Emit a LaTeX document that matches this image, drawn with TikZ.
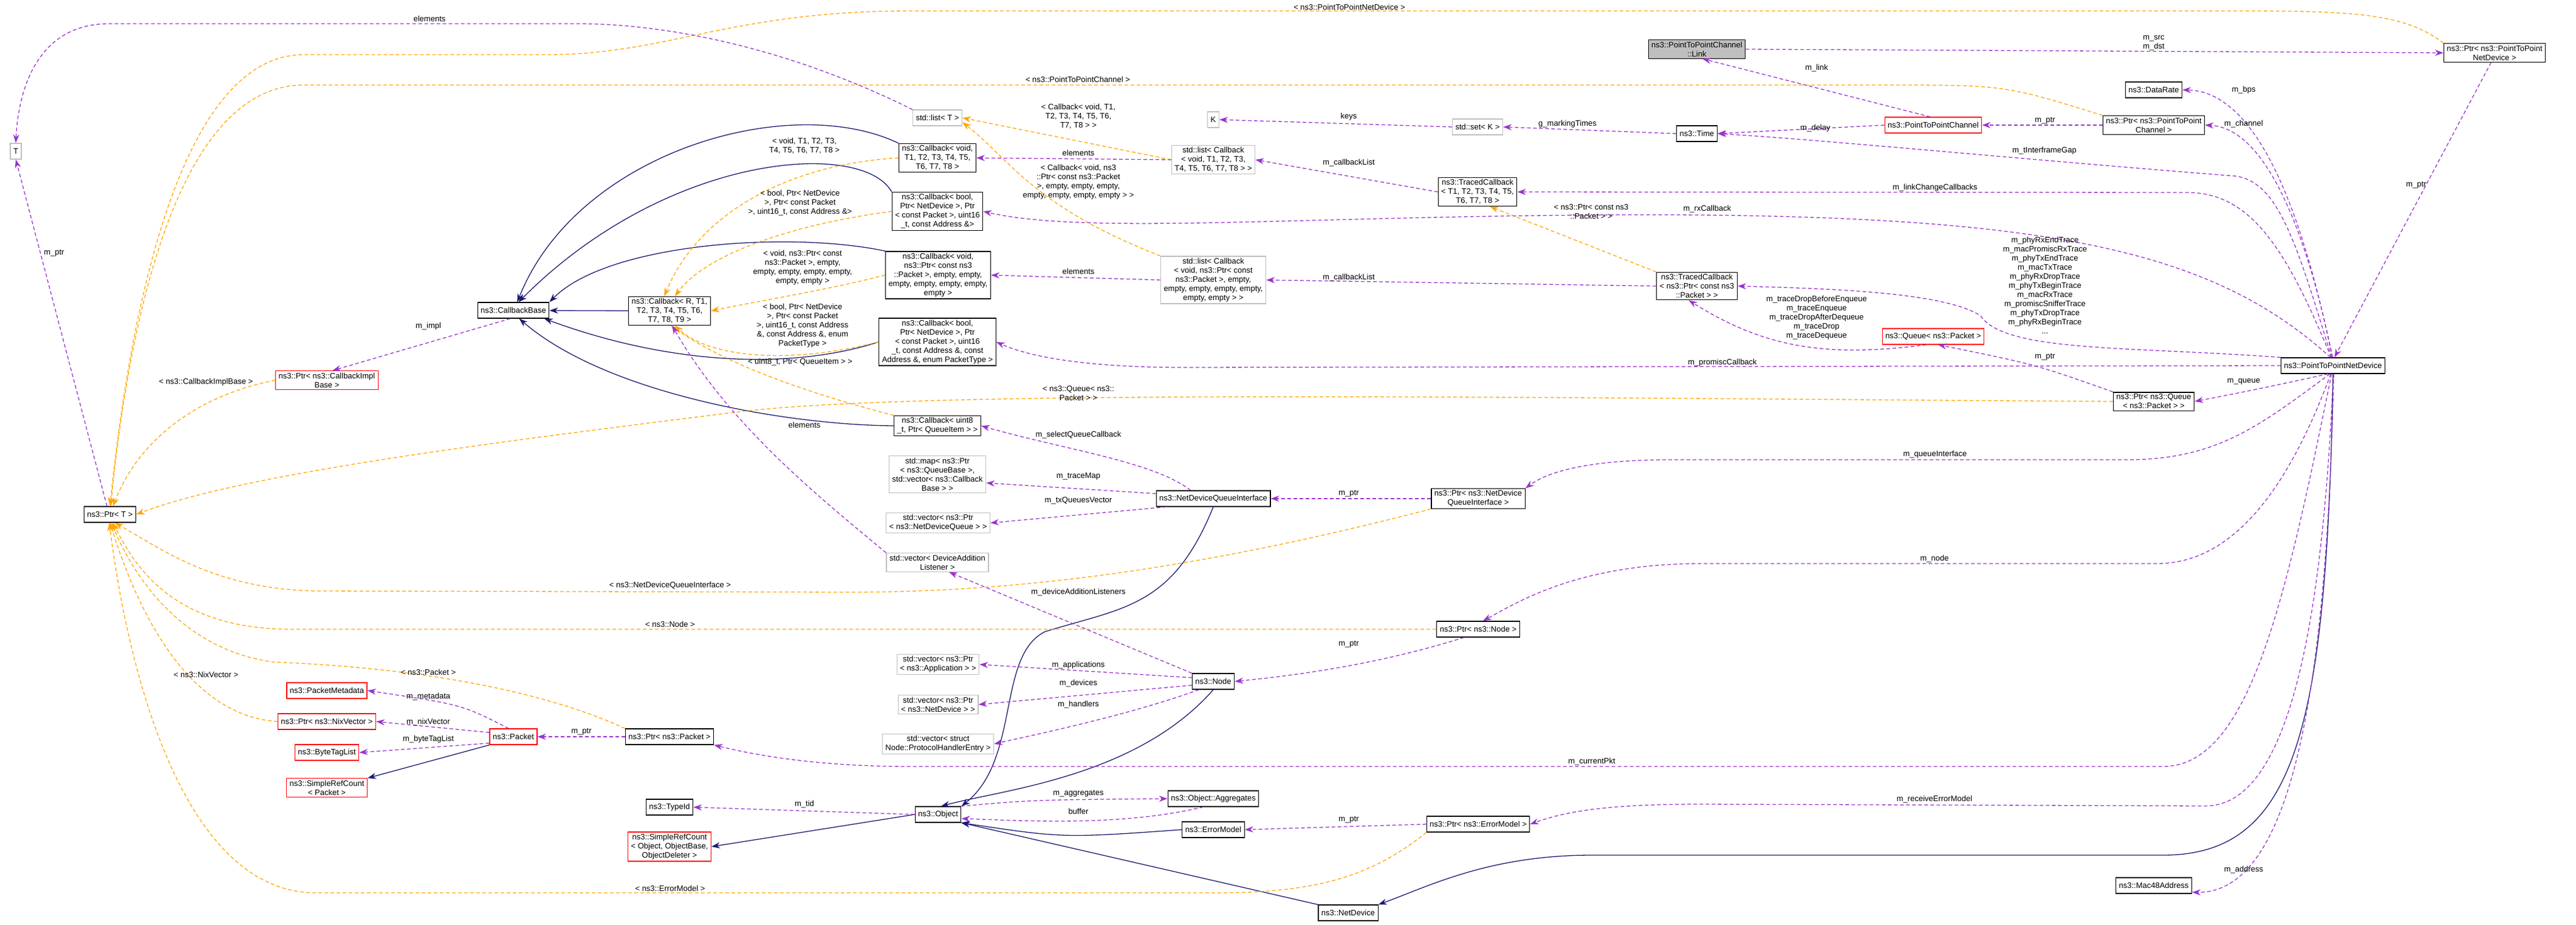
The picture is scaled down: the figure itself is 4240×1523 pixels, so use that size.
\documentclass[tikz,border=0pt]{standalone}
\usepackage{fontspec}
\setmainfont{Liberation Sans}
\usetikzlibrary{arrows.meta}
\definecolor{purp}{HTML}{9A32CD}
\definecolor{orng}{HTML}{FFA500}
\definecolor{navy}{HTML}{191970}
\definecolor{gbord}{HTML}{BFBFBF}
\definecolor{gfill}{HTML}{BFBFBF}
\newcommand{\fs}{\fontsize{13}{15}\selectfont}
\tikzset{
 box/.style={draw=black, fill=white, line width=1.2pt, font=\fs, align=center, inner xsep=5pt, inner ysep=3pt, minimum height=26pt},
 rbox/.style={box, draw=red},
 gbox/.style={box, draw=gbord},
 lbl/.style={font=\fs, align=center, inner sep=0pt},
 use/.style={draw=purp, dash pattern=on 6pt off 4pt, line width=1.3pt, -{Stealth[length=14pt,width=10pt]}},
 tmpl/.style={use, draw=orng},
 inh/.style={draw=navy, line width=1.3pt, -{Stealth[length=14pt,width=10pt]}},
}
\begin{document}
\begin{tikzpicture}[x=1pt,y=-1pt]
\useasboundingbox (0,0) rectangle (4240,1523);
% nodes
\node[gbox] (T) at (26,249) {T};
\node[box] (ptrT) at (181,847) {ns3::Ptr< T >};
\node[box] (cbb) at (845,511) {ns3::CallbackBase};
\node[box] (cbr) at (1102,512) {ns3::Callback< R, T1,\\ T2, T3, T4, T5, T6,\\ T7, T8, T9 >};
\node[rbox] (pcib) at (538,626) {ns3::Ptr< ns3::CallbackImpl\\Base >};
\node[gbox] (lst) at (1543,194) {std::list< T >};
\node[box] (cbv) at (1543,260) {ns3::Callback< void,\\ T1, T2, T3, T4, T5,\\ T6, T7, T8 >};
\node[box] (cbba) at (1543,348) {ns3::Callback< bool,\\ Ptr< NetDevice >, Ptr\\< const Packet >, uint16\\\_t, const Address \&>};
\node[box] (cbvp) at (1544,453) {ns3::Callback< void,\\ ns3::Ptr< const ns3\\::Packet >, empty, empty,\\ empty, empty, empty, empty,\\ empty >};
\node[box] (cbbp) at (1543,563) {ns3::Callback< bool,\\ Ptr< NetDevice >, Ptr\\< const Packet >, uint16\\\_t, const Address \&, const\\ Address \&, enum PacketType >};
\node[box] (cbu) at (1543,701) {ns3::Callback< uint8\\\_t, Ptr< QueueItem > >};
\node[gbox] (K) at (1997,197) {K};
\node[gbox] (lstcb) at (1997,263) {std::list< Callback\\< void, T1, T2, T3,\\ T4, T5, T6, T7, T8 > >};
\node[gbox] (lstcbp) at (1997,461) {std::list< Callback\\< void, ns3::Ptr< const\\ ns3::Packet >, empty,\\ empty, empty, empty, empty,\\ empty, empty > >};
\node[gbox] (setk) at (2432,209) {std::set< K >};
\node[box] (time) at (2793,220) {ns3::Time};
\node[box, fill=gfill] (link) at (2793,81) {ns3::PointToPointChannel\\::Link};
\node[box] (tcb) at (2432,316) {ns3::TracedCallback\\< T1, T2, T3, T4, T5,\\ T6, T7, T8 >};
\node[box] (tcbp) at (2793,471) {ns3::TracedCallback\\< ns3::Ptr< const ns3\\::Packet > >};
\node[box] (ppnd) at (4106,87) {ns3::Ptr< ns3::PointToPoint\\NetDevice >};
\node[box] (drate) at (3545,148) {ns3::DataRate};
\node[rbox] (p2pc) at (3182,206) {ns3::PointToPointChannel};
\node[box] (pp2pc) at (3545,206) {ns3::Ptr< ns3::PointToPoint\\Channel >};
\node[rbox] (queue) at (3182,554) {ns3::Queue< ns3::Packet >};
\node[box] (p2pnd) at (3840,602) {ns3::PointToPointNetDevice};
\node[box] (pqueue) at (3545,661) {ns3::Ptr< ns3::Queue\\< ns3::Packet > >};
\node[gbox] (map) at (1543,781) {std::map< ns3::Ptr\\< ns3::QueueBase >,\\ std::vector< ns3::Callback\\Base > >};
\node[box] (ndqi) at (1997,821) {ns3::NetDeviceQueueInterface};
\node[gbox] (vndq) at (1544,861) {std::vector< ns3::Ptr\\< ns3::NetDeviceQueue > >};
\node[box] (pndqi) at (2433,821) {ns3::Ptr< ns3::NetDevice\\QueueInterface >};
\node[gbox] (vdal) at (1543,926) {std::vector< DeviceAddition\\Listener >};
\node[box] (pnode) at (2433,1036) {ns3::Ptr< ns3::Node >};
\node[gbox] (vapp) at (1544,1094) {std::vector< ns3::Ptr\\< ns3::Application > >};
\node[box] (node) at (1997,1122) {ns3::Node};
\node[gbox] (vdev) at (1544,1160) {std::vector< ns3::Ptr\\< ns3::NetDevice > >};
\node[gbox] (vhand) at (1544,1225) {std::vector< struct\\ Node::ProtocolHandlerEntry >};
\node[rbox] (pmeta) at (538,1137) {ns3::PacketMetadata};
\node[rbox] (pnix) at (538,1188) {ns3::Ptr< ns3::NixVector >};
\node[rbox] (packet) at (845,1213) {ns3::Packet};
\node[box] (ppacket) at (1102,1213) {ns3::Ptr< ns3::Packet >};
\node[rbox] (btl) at (538,1239) {ns3::ByteTagList};
\node[rbox] (srcp) at (538,1297) {ns3::SimpleRefCount\\< Packet >};
\node[box] (typeid) at (1102,1329) {ns3::TypeId};
\node[rbox] (srco) at (1102,1394) {ns3::SimpleRefCount\\< Object, ObjectBase,\\ ObjectDeleter >};
\node[box] (agg) at (1997,1315) {ns3::Object::Aggregates};
\node[box] (obj) at (1544,1341) {ns3::Object};
\node[box] (em) at (1997,1366) {ns3::ErrorModel};
\node[box] (pem) at (2433,1357) {ns3::Ptr< ns3::ErrorModel >};
\node[box] (nd) at (2219,1503) {ns3::NetDevice};
\node[box] (mac) at (3545,1458) {ns3::Mac48Address};

% inheritance
\draw[inh] (cbr) -- (cbb);
\draw[inh] (cbv.north west) .. controls (1300,150) and (950,250) .. (cbb.65);
\draw[inh] (cbba.north west) .. controls (1420,230) and (1100,250) .. (cbb.58);
\draw[inh] (cbvp.north west) .. controls (1300,380) and (1000,400) .. (cbb.north east);
\draw[inh] (cbbp.west) .. controls (1300,610) and (1100,600) .. (cbb.-15);
\draw[inh] (cbu.west) .. controls (1300,700) and (1000,650) .. (cbb.-55);
\draw[inh] (packet.south west) -- (srcp.north east);
\draw[inh] (obj.west) -- (srco.east);
\draw[inh] (ndqi.south) .. controls (1930,1000) and (1850,1000) .. (1720,1040) .. controls (1640,1080) and (1680,1250) .. (obj.north east);
\draw[inh] (node.south) .. controls (1870,1280) and (1650,1300) .. (obj.70);
\draw[inh] (em.west) .. controls (1750,1380) .. (obj.-20);
\draw[inh] (nd.north west) -- (obj.south east);
\draw[inh] (p2pnd.south) .. controls (3830,1200) and (3780,1408) .. (3560,1408) -- (2620,1408) .. controls (2450,1408) and (2350,1460) .. (nd.north east);

% template
\draw[tmpl] (cbv.west) .. controls (1300,270) and (1150,350) .. (cbr.110);
\draw[tmpl] (cbba.west) .. controls (1300,370) and (1160,420) .. (cbr.70);
\draw[tmpl] (cbvp.west) .. controls (1350,480) and (1250,495) .. (cbr.east);
\draw[tmpl] (cbbp.west) .. controls (1300,600) and (1170,590) .. (cbr.-70);
\draw[tmpl] (cbu.north west) .. controls (1300,640) and (1180,590) .. (cbr.-85);
\draw[tmpl] (lstcb.west) -- (lst.east);
\draw[tmpl] (lstcbp.north west) .. controls (1700,340) and (1660,260) .. (lst.-10);
\draw[tmpl] (tcbp.north west) -- (tcb.-50);
\draw[tmpl] (ppnd.north west) .. controls (3950,15) and (3850,18) .. (3600,18) -- (1500,18) .. controls (1200,18) and (1100,90) .. (900,90) -- (500,90) .. controls (300,90) and (215,500) .. (ptrT.north);
\draw[tmpl] (pp2pc.north west) .. controls (3300,140) .. (3100,140) -- (500,140) .. controls (300,140) and (215,500) .. (ptrT.85);
\draw[tmpl] (pcib.west) .. controls (330,650) and (230,720) .. (ptrT.70);
\draw[tmpl] (pqueue.west) .. controls (2500,655) and (1500,640) .. (1200,680) .. controls (800,730) and (400,780) .. (ptrT.east);
\draw[tmpl] (pndqi.south west) .. controls (2000,930) and (1700,975) .. (1400,975) -- (520,973) .. controls (350,970) and (260,900) .. (ptrT.-60);
\draw[tmpl] (pnode.west) -- (480,1036) .. controls (300,1036) and (230,950) .. (ptrT.-70);
\draw[tmpl] (ppacket.north west) .. controls (900,1140) and (700,1100) .. (450,1090) .. controls (300,1070) and (220,950) .. (ptrT.-80);
\draw[tmpl] (pnix.west) .. controls (330,1180) and (240,1050) .. (ptrT.-90);
\draw[tmpl] (pem.south west) .. controls (2250,1450) and (2150,1470) .. (2000,1470) -- (520,1470) .. controls (300,1470) and (210,1100) .. (ptrT.-95);

% usage
\draw[use] (lst.north west) .. controls (1300,80) and (1100,39) .. (950,39) -- (180,39) .. controls (60,39) and (30,150) .. (T.north);
\draw[use] (ptrT.110) -- (T.south);
\draw[use] (cbb.250) -- (pcib.60);
\draw[use] (lstcb.west) -- (cbv.east);
\draw[use] (lstcbp.west) -- (cbvp.east);
\draw[use] (vdal.north west) .. controls (1350,820) and (1200,700) .. (cbr.-80);
\draw[use] (setk.west) -- (K.east);
\draw[use] (time.west) -- (setk.east);
\draw[use] (tcb.west) -- (lstcb.east);
\draw[use] (tcbp.west) -- (lstcbp.east);
\draw[use] (link.east) -- (ppnd.west);
\draw[use] (p2pc.110) -- (link.-60);
\draw[use] (p2pc.west) -- (time.east);
\draw[use] (pp2pc.west) -- (p2pc.east);
\draw[use] (ppnd.-110) -- (p2pnd.80);
\draw[use] (p2pnd.95) .. controls (3780,300) and (3700,150) .. (drate.east);
\draw[use] (p2pnd.93) .. controls (3790,350) and (3720,210) .. (pp2pc.east);
\draw[use] (p2pnd.100) .. controls (3780,400) and (3750,300) .. (3680,290) .. controls (3300,260) and (3000,230) .. (time.east);
\draw[use] (p2pnd.103) .. controls (3760,400) and (3700,317) .. (3600,317) -- (tcb.east);
\draw[use] (p2pnd.107) .. controls (3650,420) and (3400,360) .. (2800,354) .. controls (2200,350) and (1800,390) .. (cbba.east);
\draw[use] (p2pnd.north west) .. controls (3500,570) and (3300,580) .. (3260,520) .. controls (3200,480) and (3000,475) .. (tcbp.east);
\draw[use] (p2pnd.west) -- (1950,605) .. controls (1800,605) and (1700,590) .. (cbbp.east);
\draw[use] (p2pnd.-120) .. controls (3720,640) .. (pqueue.east);
\draw[use] (p2pnd.-110) .. controls (3720,700) and (3650,757) .. (3500,757) -- (2750,757) .. controls (2620,757) and (2550,775) .. (pndqi.north east);
\draw[use] (p2pnd.-105) .. controls (3750,850) and (3650,928) .. (3550,928) -- (2800,928) .. controls (2600,928) and (2500,990) .. (pnode.60);
\draw[use] (p2pnd.-100) .. controls (3760,1000) and (3700,1262) .. (3560,1262) -- (1500,1262) .. controls (1350,1262) and (1250,1245) .. (ppacket.south east);
\draw[use] (p2pnd.-88) .. controls (3820,1100) and (3750,1327) .. (3630,1327) -- (2800,1324) .. controls (2650,1324) and (2580,1335) .. (pem.east);
\draw[use] (p2pnd.-85) .. controls (3830,1100) and (3780,1471) .. (mac.-10);
\draw[use] (queue.-130) .. controls (3000,590) and (2900,570) .. (tcbp.-120);
\draw[use] (pqueue.north west) .. controls (3350,600) .. (queue.-60);
\draw[use] (ndqi.160) .. controls (1900,760) and (1750,740) .. (cbu.east);
\draw[use] (ndqi.175) -- (map.-10);
\draw[use] (ndqi.-170) -- (vndq.east);
\draw[use] (pndqi.west) -- (ndqi.east);
\draw[use] (node.north west) -- (vdal.-40);
\draw[use] (node.170) -- (vapp.east);
\draw[use] (node.-170) -- (vdev.east);
\draw[use] (node.-150) .. controls (1850,1180) and (1700,1210) .. (vhand.east);
\draw[use] (pnode.-150) .. controls (2250,1100) and (2100,1115) .. (node.east);
\draw[use] (obj.west) -- (typeid.east);
\draw[use] (obj.20) .. controls (1700,1317) .. (agg.west);
\draw[use] (agg.-140) .. controls (1850,1360) and (1700,1352) .. (obj.-10);
\draw[use] (pem.west) -- (em.east);
\draw[use] (packet.120) .. controls (760,1160) .. (pmeta.east);
\draw[use] (packet.170) -- (pnix.east);
\draw[use] (packet.-165) -- (btl.east);
\draw[use] (ppacket.west) -- (packet.east);

% labels
\node[lbl] (l1) at (707,31) {elements};
\node[lbl] (l2) at (89,417) {m\_ptr};
\node[lbl] (l3) at (705,537) {m\_impl};
\node[lbl] (l4) at (339,629) {< ns3::CallbackImplBase >};
\node[lbl] (l5) at (1324,240) {< void, T1, T2, T3,\\T4, T5, T6, T7, T8 >};
\node[lbl] (l6) at (1317,334) {< bool, Ptr< NetDevice\\>, Ptr< const Packet\\>, uint16\_t, const Address \&>};
\node[lbl] (l7) at (1321,441) {< void, ns3::Ptr< const\\ns3::Packet >, empty,\\empty, empty, empty, empty,\\empty, empty >};
\node[lbl] (l8) at (1321,536) {< bool, Ptr< NetDevice\\>, Ptr< const Packet\\>, uint16\_t, const Address\\\&, const Address \&, enum\\PacketType >};
\node[lbl] (l9) at (1317,596) {< uint8\_t, Ptr< QueueItem > >};
\node[lbl] (l10) at (1324,700) {elements};
\node[lbl] (l11) at (1103,964) {< ns3::NetDeviceQueueInterface >};
\node[lbl] (l12) at (1103,1028) {< ns3::Node >};
\node[lbl] (l13) at (705,1107) {< ns3::Packet >};
\node[lbl] (l14) at (339,1111) {< ns3::NixVector >};
\node[lbl] (l15) at (705,1147) {m\_metadata};
\node[lbl] (l16) at (705,1189) {m\_nixVector};
\node[lbl] (l17) at (705,1217) {m\_byteTagList};
\node[lbl] (l18) at (957,1205) {m\_ptr};
\node[lbl] (l19) at (1324,1324) {m\_tid};
\node[lbl] (l20) at (1103,1463) {< ns3::ErrorModel >};
\node[lbl] (l21) at (2221,12) {< ns3::PointToPointNetDevice >};
\node[lbl] (l22) at (1774,131) {< ns3::PointToPointChannel >};
\node[lbl] (l23) at (1775,192) {< Callback< void, T1,\\T2, T3, T4, T5, T6,\\T7, T8 > >};
\node[lbl] (l24) at (2220,192) {keys};
\node[lbl] (l25) at (2580,204) {g\_markingTimes};
\node[lbl] (l26) at (1775,252) {elements};
\node[lbl] (l27) at (2220,268) {m\_callbackList};
\node[lbl] (l28) at (1775,300) {< Callback< void, ns3\\::Ptr< const ns3::Packet\\>, empty, empty, empty,\\empty, empty, empty, empty > >};
\node[lbl] (l29) at (2619,349) {< ns3::Ptr< const ns3\\::Packet > >};
\node[lbl] (l30) at (2810,344) {m\_rxCallback};
\node[lbl] (l31) at (1775,447) {elements};
\node[lbl] (l32) at (2220,457) {m\_callbackList};
\node[lbl] (l33) at (2835,597) {m\_promiscCallback};
\node[lbl] (l34) at (1775,648) {< ns3::Queue< ns3::\\Packet > >};
\node[lbl] (l35) at (1775,716) {m\_selectQueueCallback};
\node[lbl] (l36) at (1775,784) {m\_traceMap};
\node[lbl] (l37) at (1775,824) {m\_txQueuesVector};
\node[lbl] (l38) at (2220,813) {m\_ptr};
\node[lbl] (l39) at (1775,975) {m\_deviceAdditionListeners};
\node[lbl] (l40) at (2220,1061) {m\_ptr};
\node[lbl] (l41) at (1775,1095) {m\_applications};
\node[lbl] (l42) at (1775,1125) {m\_devices};
\node[lbl] (l43) at (1775,1160) {m\_handlers};
\node[lbl] (l44) at (2620,1254) {m\_currentPkt};
\node[lbl] (l45) at (1775,1307) {m\_aggregates};
\node[lbl] (l46) at (1775,1336) {buffer};
\node[lbl] (l47) at (2220,1350) {m\_ptr};
\node[lbl] (l48) at (3545,71) {m\_src\\m\_dst};
\node[lbl] (l49) at (2990,112) {m\_link};
\node[lbl] (l50) at (3693,148) {m\_bps};
\node[lbl] (l51) at (3366,199) {m\_ptr};
\node[lbl] (l52) at (3693,204) {m\_channel};
\node[lbl] (l53) at (2988,211) {m\_delay};
\node[lbl] (l54) at (3365,248) {m\_tInterframeGap};
\node[lbl] (l55) at (3185,309) {m\_linkChangeCallbacks};
\node[lbl] (l56) at (3977,305) {m\_ptr};
\node[lbl] (l57) at (3366,470) {m\_phyRxEndTrace\\m\_macPromiscRxTrace\\m\_phyTxEndTrace\\m\_macTxTrace\\m\_phyRxDropTrace\\m\_phyTxBeginTrace\\m\_macRxTrace\\m\_promiscSnifferTrace\\m\_phyTxDropTrace\\m\_phyRxBeginTrace\\...};
\node[lbl] (l58) at (2990,523) {m\_traceDropBeforeEnqueue\\m\_traceEnqueue\\m\_traceDropAfterDequeue\\m\_traceDrop\\m\_traceDequeue};
\node[lbl] (l59) at (3366,588) {m\_ptr};
\node[lbl] (l60) at (3693,628) {m\_queue};
\node[lbl] (l61) at (3185,748) {m\_queueInterface};
\node[lbl] (l62) at (3184,920) {m\_node};
\node[lbl] (l63) at (3184,1316) {m\_receiveErrorModel};
\node[lbl] (l64) at (3693,1432) {m\_address};
\end{tikzpicture}
\end{document}
